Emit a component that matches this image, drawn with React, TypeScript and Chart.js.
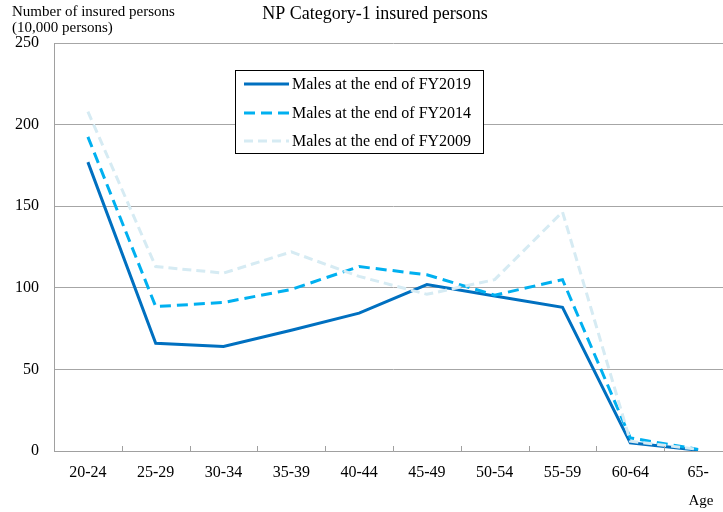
import React, { useEffect, useRef } from "react";
import { Chart, registerables } from "chart.js";

Chart.register(...registerables);

const categories = ["20-24", "25-29", "30-34", "35-39", "40-44", "45-49", "50-54", "55-59", "60-64", "65-"];
const fy2019 = [177, 66, 64, 74, 84.5, 102, 95, 88, 5, 0.5];
const fy2014 = [192.5, 88.5, 91, 99, 113, 108, 95.5, 105, 8, 1];
const fy2009 = [208, 113, 109, 122, 107, 96, 105, 146.5, 6, 1];
const seriesLabels = ["Males at the end of FY2019", "Males at the end of FY2014", "Males at the end of FY2009"];
const yTicks = [0, 50, 100, 150, 200, 250];

const FONT = "'Liberation Serif', 'Times New Roman', serif";
const colors = ["#0070C0", "#00B0F0", "#D6EBF3"];
const dashes: number[][] = [[], [11, 6], [9, 5]];

const decorPlugin = {
  id: "decor",
  afterDraw(chart: any) {
    const ctx = chart.ctx;
    const x = chart.scales.x;
    const area = chart.chartArea;
    ctx.save();
    // x tick marks between categories (inside)
    ctx.strokeStyle = "#A0A0A0";
    ctx.lineWidth = 1;
    for (let i = 0; i <= categories.length; i++) {
      const px = Math.round(x.getPixelForValue(i - 0.5)) + 0.5;
      ctx.beginPath();
      ctx.moveTo(px, area.bottom);
      ctx.lineTo(px, area.bottom - 5);
      ctx.stroke();
    }
    // title
    ctx.fillStyle = "#000";
    ctx.font = `18px ${FONT}`;
    ctx.textAlign = "center";
    ctx.textBaseline = "middle";
    ctx.fillText("NP Category-1 insured persons", 375, 14);
    // y axis title
    ctx.font = `15px ${FONT}`;
    ctx.textAlign = "left";
    ctx.fillText("Number of insured persons", 12, 12);
    ctx.fillText("(10,000 persons)", 12, 28);
    // x axis title
    ctx.font = `15px ${FONT}`;
    ctx.textAlign = "center";
    ctx.fillText("Age", 701, 501);
    // legend
    ctx.fillStyle = "#fff";
    ctx.fillRect(235.5, 70.5, 248, 83);
    ctx.strokeStyle = "#000";
    ctx.lineWidth = 1;
    ctx.strokeRect(235.5, 70.5, 248, 83);
    const rows = [84, 113, 141];
    for (let i = 0; i < 3; i++) {
      ctx.beginPath();
      ctx.strokeStyle = colors[i];
      ctx.lineWidth = 3;
      ctx.setLineDash(dashes[i]);
      ctx.moveTo(244, rows[i]);
      ctx.lineTo(289, rows[i]);
      ctx.stroke();
      ctx.setLineDash([]);
      ctx.fillStyle = "#000";
      ctx.font = `16px ${FONT}`;
      ctx.textAlign = "left";
      ctx.textBaseline = "middle";
      ctx.fillText(seriesLabels[i], 292, rows[i] + 1);
    }
    ctx.restore();
  },
};

export default function App() {
  const ref = useRef<HTMLCanvasElement>(null);
  useEffect(() => {
    if (!ref.current) return;
    const data = [fy2019, fy2014, fy2009];
    const chart = new Chart(ref.current, {
      type: "line",
      data: {
        labels: categories,
        datasets: data.map((d, i) => ({
          label: seriesLabels[i],
          data: d,
          borderColor: colors[i],
          backgroundColor: colors[i],
          borderWidth: 3,
          borderDash: dashes[i],
          pointRadius: 0,
          tension: 0,
          fill: false,
          order: 2 - i,
        })),
      },
      options: {
        animation: false,
        responsive: false,
        devicePixelRatio: 1,
        layout: { padding: { top: 43, left: 0, right: 28, bottom: 0 } },
        plugins: { legend: { display: false }, title: { display: false }, tooltip: { enabled: false } },
        scales: {
          x: {
            type: "category",
            offset: true,
            grid: { display: false, drawTicks: false },
            border: { display: true, color: "#A0A0A0", width: 1 },
            ticks: { font: { family: FONT, size: 16 }, color: "#000", padding: 12, maxRotation: 0, autoSkip: false },
            afterFit: (s: any) => { s.height = 61; },
          },
          y: {
            min: 0,
            max: 250,
            afterBuildTicks: (s: any) => { s.ticks = yTicks.map((v) => ({ value: v })); },
            grid: { color: "#A6A6A6", lineWidth: 1, drawTicks: false },
            border: { display: true, color: "#A0A0A0", width: 1 },
            ticks: { font: { family: FONT, size: 16 }, color: "#000", padding: 15 },
            afterFit: (s: any) => { s.width = 54; },
          },
        },
      },
      plugins: [decorPlugin],
    });
    return () => chart.destroy();
  }, []);
  return (
    <div style={{ position: "fixed", left: 0, top: 0, width: 723, height: 512, overflow: "hidden", background: "#fff" }}>
      <canvas ref={ref} width={760} height={512} style={{ width: 760, height: 512, display: "block" }} />
    </div>
  );
}
